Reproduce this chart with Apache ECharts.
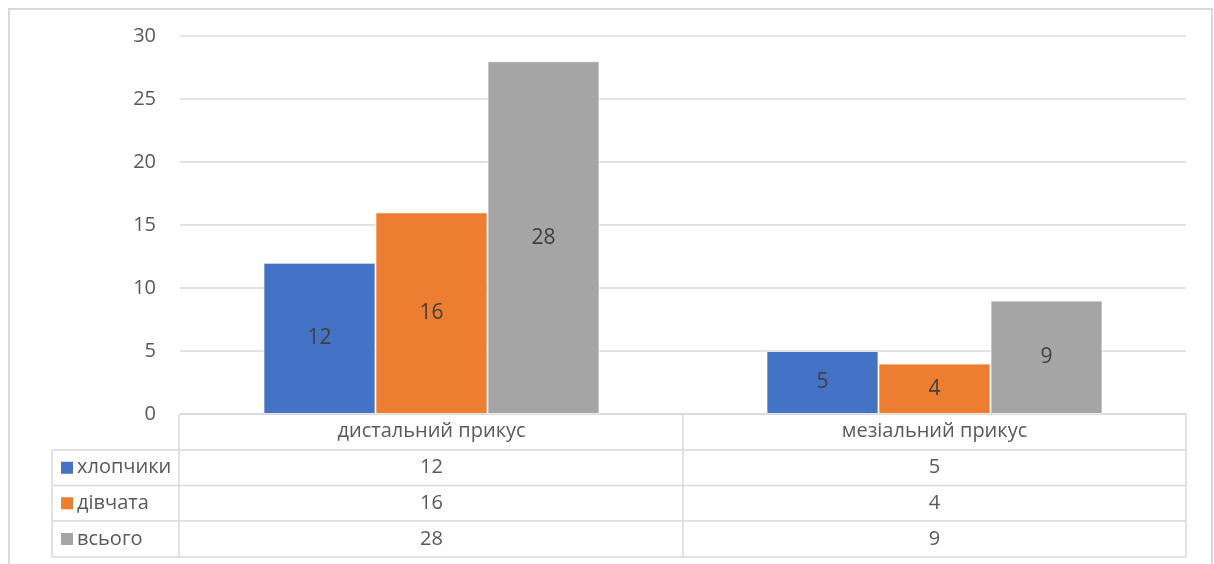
<!DOCTYPE html>
<html>
<head>
<meta charset="utf-8">
<script src="https://cdn.jsdelivr.net/npm/echarts@6/dist/echarts.min.js"></script>
<style>
  html, body { margin: 0; padding: 0; background: #fff; }
  #chart { width: 1214px; height: 564px; }
</style>
</head>
<body>
<div id="chart"></div>
<script>
// Bite types and counts per group
const categories = ['дистальний прикус', 'мезіальний прикус'];
const seriesNames = ['хлопчики', 'дівчата', 'всього'];
const boys = [12, 5];
const girls = [16, 4];
const total = [28, 9];
const yTicks = [0, 5, 10, 15, 20, 25, 30];

const colors = ['#4472C4', '#ED7D31', '#A5A5A5'];
const seriesValues = [boys, girls, total];

const FONT = '"Open Sans", "Noto Sans", sans-serif';
const FS = 20;
const GRID = { left: 180, right: 28, top: 36, bottom: 150 };
const ROW_H = 36;
const LINE = '#d9d9d9';

const chart = echarts.init(document.getElementById('chart'), null, { renderer: 'canvas' });

const option = {
  animation: false,
  backgroundColor: '#fff',
  grid: GRID,
  xAxis: {
    type: 'category',
    data: categories,
    axisLine: { lineStyle: { color: LINE, width: 1.5 } },
    axisTick: { show: false },
    axisLabel: { color: '#595959', fontFamily: FONT, fontSize: FS, margin: 7 }
  },
  yAxis: {
    type: 'value',
    min: yTicks[0],
    max: yTicks[yTicks.length - 1],
    interval: 5,
    axisLine: { show: false },
    axisTick: { show: false },
    axisLabel: { color: '#595959', fontFamily: FONT, fontSize: FS, margin: 24 },
    splitLine: { lineStyle: { color: LINE, width: 1.5 } }
  },
  series: seriesNames.map((name, i) => ({
    name: name,
    type: 'bar',
    data: seriesValues[i],
    barGap: '0%',
    barCategoryGap: '33.2%',
    itemStyle: { color: colors[i], borderColor: 'rgba(255,255,255,0.7)', borderWidth: 1 },
    label: {
      show: true,
      position: 'inside',
      color: '#404040',
      fontFamily: FONT,
      fontSize: 21
    }
  }))
};

chart.setOption(option);

// Data table underneath the plot, aligned with the category axis
function drawTable() {
  const W = chart.getWidth();
  const H = chart.getHeight();
  const x0 = GRID.left - 1;
  const x1 = W - GRID.right;
  const yAxisLine = H - GRID.bottom;
  const headerBottom = yAxisLine + ROW_H;
  const legendLeft = 52;
  const centers = categories.map(c => chart.convertToPixel({ xAxisIndex: 0 }, c));
  const mid = (centers[0] + centers[1]) / 2;
  const rowTops = seriesNames.map((_, i) => headerBottom + i * ROW_H - (i > 0 ? i * 0.5 : 0));
  const tableBottom = headerBottom + seriesNames.length * ROW_H - 1;

  const els = [];
  const line = (xa, ya, xb, yb) => els.push({
    type: 'line', silent: true,
    shape: { x1: xa, y1: ya, x2: xb, y2: yb },
    style: { stroke: LINE, lineWidth: 1.5 }
  });

  // vertical lines
  line(x0, yAxisLine, x0, tableBottom);
  line(mid, yAxisLine, mid, tableBottom);
  line(x1, yAxisLine, x1, tableBottom);
  line(legendLeft, headerBottom, legendLeft, tableBottom);
  // horizontal lines
  rowTops.forEach(t => line(legendLeft, t, x1, t));
  line(legendLeft, tableBottom, x1, tableBottom);

  seriesNames.forEach((name, i) => {
    const top = rowTops[i];
    const next = i + 1 < rowTops.length ? rowTops[i + 1] : tableBottom;
    const cy = (top + next) / 2;
    els.push({
      type: 'rect', silent: true,
      shape: { x: 61, y: cy - 6, width: 12, height: 12 },
      style: { fill: colors[i] }
    });
    els.push({
      type: 'text', silent: true,
      x: 77, y: cy,
      style: { text: name, fill: '#595959', font: FS + 'px ' + FONT, verticalAlign: 'middle', align: 'left' }
    });
    seriesValues[i].forEach((v, j) => {
      els.push({
        type: 'text', silent: true,
        x: centers[j], y: cy,
        style: { text: String(v), fill: '#595959', font: FS + 'px ' + FONT, verticalAlign: 'middle', align: 'center' }
      });
    });
  });

  // outer chart frame
  els.push({
    type: 'rect', silent: true,
    shape: { x: 9, y: 9, width: W - 11, height: H + 10 },
    style: { fill: 'none', stroke: '#d9d9d9', lineWidth: 2 }
  });

  chart.setOption({ graphic: { elements: els } });
}

drawTable();
</script>
</body>
</html>
